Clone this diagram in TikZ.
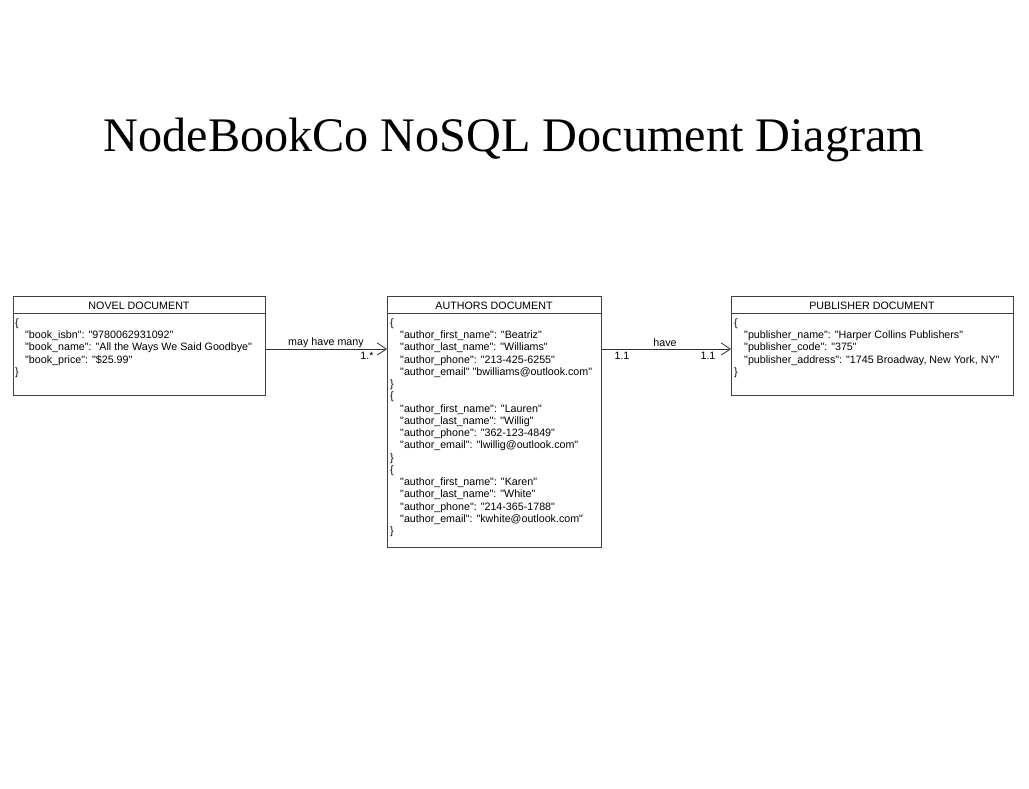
\documentclass[tikz,border=0pt]{standalone}
\usepackage{fontspec}
\setmainfont{Liberation Serif}
\newfontfamily\arialfont{Liberation Sans}
\usetikzlibrary{arrows.meta}
\tikzset{
  docbox/.style={draw=black!75, line width=0.8pt},
  headtext/.style={font=\arialfont\fontsize{10.7}{12.3}\selectfont, anchor=center, inner sep=0pt},
  bodytext/.style={font=\arialfont\fontsize{10.7}{12.25}\selectfont, anchor=north west, align=left, inner sep=0pt},
  rel/.style={draw=black!80, line width=0.8pt, -{Straight Barb[length=9pt,width=12pt,line width=0.8pt]}},
  lbl/.style={font=\arialfont\fontsize{10.7}{12}\selectfont, inner sep=0pt}
}
\begin{document}
\begin{tikzpicture}[x=1pt,y=-1pt]
\useasboundingbox[fill=white] (0,0) rectangle (1029,789);
\node[font=\fontsize{48.2}{55}\selectfont, anchor=base, inner sep=0pt] (title) at (514,152) {NodeBookCo NoSQL Document Diagram};

% Novel
\node[docbox, minimum width=252pt, minimum height=99pt, anchor=north west, inner sep=0pt] (novel) at (13,296) {};
\draw[docbox] (13,313) -- (265,313);
\node[headtext] (novelh) at (139,305.5) {NOVEL DOCUMENT};
\node[bodytext] (novelb) at (15,318.3) {\{\\
\hspace*{10pt}"book\_isbn": "9780062931092"\\
\hspace*{10pt}"book\_name": "All the Ways We Said Goodbye"\\
\hspace*{10pt}"book\_price": "\$25.99"\\
\}};

% Authors
\node[docbox, minimum width=214pt, minimum height=251pt, anchor=north west, inner sep=0pt] (authors) at (387,296) {};
\draw[docbox] (387,313) -- (601,313);
\node[headtext] (authorsh) at (494,305.5) {AUTHORS DOCUMENT};
\node[bodytext] (authorsb) at (390,318.3) {\{\\
\hspace*{10pt}"author\_first\_name": "Beatriz"\\
\hspace*{10pt}"author\_last\_name": "Williams"\\
\hspace*{10pt}"author\_phone": "213-425-6255"\\
\hspace*{10pt}"author\_email" "bwilliams@outlook.com"\\
\}\\
\{\\
\hspace*{10pt}"author\_first\_name": "Lauren"\\
\hspace*{10pt}"author\_last\_name": "Willig"\\
\hspace*{10pt}"author\_phone": "362-123-4849"\\
\hspace*{10pt}"author\_email": "lwillig@outlook.com"\\
\}\\
\{\\
\hspace*{10pt}"author\_first\_name": "Karen"\\
\hspace*{10pt}"author\_last\_name": "White"\\
\hspace*{10pt}"author\_phone": "214-365-1788"\\
\hspace*{10pt}"author\_email": "kwhite@outlook.com"\\
\}};

% Publisher
\node[docbox, minimum width=282pt, minimum height=99pt, anchor=north west, inner sep=0pt] (publisher) at (731,296) {};
\draw[docbox] (731,313) -- (1013,313);
\node[headtext] (publisherh) at (872,305.5) {PUBLISHER DOCUMENT};
\node[bodytext] (publisherb) at (734,318.3) {\{\\
\hspace*{10pt}"publisher\_name": "Harper Collins Publishers"\\
\hspace*{10pt}"publisher\_code": "375"\\
\hspace*{10pt}"publisher\_address": "1745 Broadway, New York, NY"\\
\}};

% Connectors
\coordinate (n1) at (265,349);
\coordinate (a1) at (387,349);
\coordinate (a2) at (601,349);
\coordinate (p1) at (731,349);
\draw[rel] (n1) -- (a1);
\draw[rel] (a2) -- (p1);
\node[lbl] (l1) at (326,343) {may have many};
\node[lbl] (l2) at (367,356) {1.*};
\node[lbl] (l3) at (665,343) {have};
\node[lbl] (l4) at (622,356) {1.1};
\node[lbl] (l5) at (708,356) {1.1};
\end{tikzpicture}
\end{document}
